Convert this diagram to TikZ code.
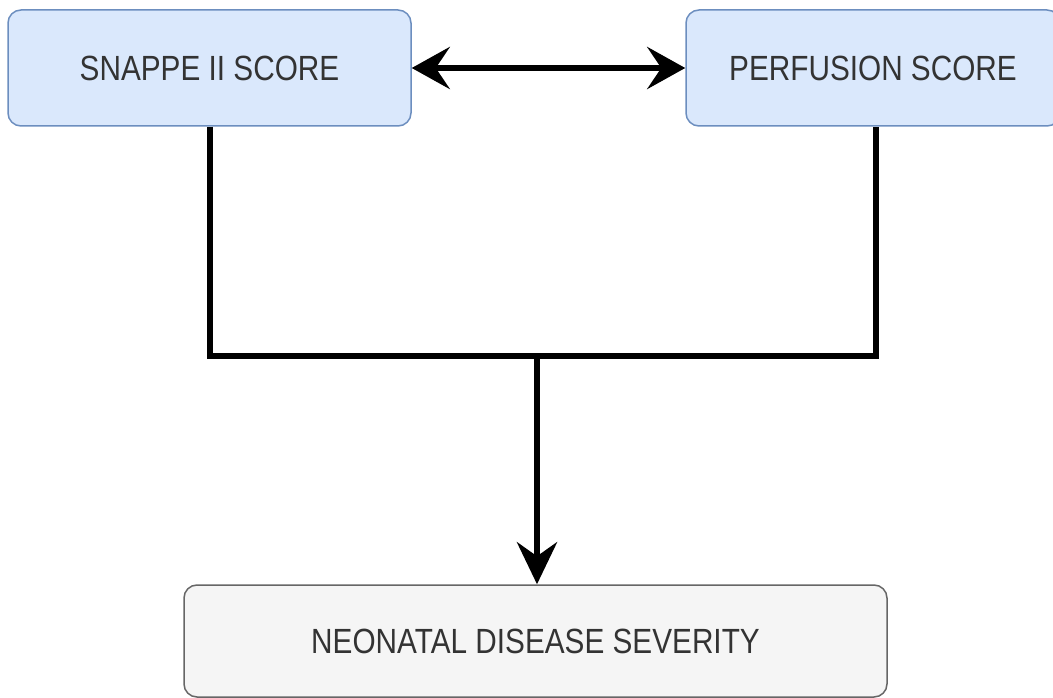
\documentclass[tikz,border=0pt]{standalone}
\usepackage{fontspec}
\setmainfont{Liberation Sans}[FakeStretch=0.85]
\usetikzlibrary{arrows.meta}
\definecolor{boxblue}{HTML}{DAE8FC}
\definecolor{lineblue}{HTML}{6C8EBF}
\definecolor{boxgray}{HTML}{F5F5F5}
\definecolor{linegray}{HTML}{666666}
\definecolor{textgray}{HTML}{333333}
\begin{document}
\begin{tikzpicture}[x=1pt, y=1pt]
\tikzstyle{score}  = [rectangle, rounded corners=13pt, draw=lineblue, line width=1.5pt, fill=boxblue, text=textgray, font=\fontsize{35}{40}\selectfont, inner sep=0pt]
\tikzstyle{result} = [rectangle, rounded corners=13pt, draw=linegray, line width=1.5pt, fill=boxgray, text=textgray, font=\fontsize{35}{40}\selectfont, inner sep=0pt]
\tikzstyle{link}   = [line width=6.5pt, black]
\useasboundingbox (0, 0) rectangle (1053, -698);
\node[score, minimum width=403pt, minimum height=116pt] at (209.5, -68) (snappe) {SNAPPE II SCORE};
\node[score, minimum width=374pt, minimum height=116pt] at (873, -68) (perfusion) {PERFUSION SCORE};
\node[result, minimum width=703pt, minimum height=112pt] at (535.5, -641) (severity) {NEONATAL DISEASE SEVERITY};
\coordinate (join) at (537, -356);
\draw[link, {Stealth[length=38pt, width=42pt, inset=14pt]}-{Stealth[length=38pt, width=42pt, inset=14pt]}] (snappe.east) -- (perfusion.west);
\draw[link] ([xshift=0.5pt]snappe.south) |- (join) -| ([xshift=3pt]perfusion.south);
\draw[link, -{Stealth[length=42pt, width=40pt, inset=14pt]}] ([yshift=3pt]join) -- (join |- severity.north);
\end{tikzpicture}
\end{document}
